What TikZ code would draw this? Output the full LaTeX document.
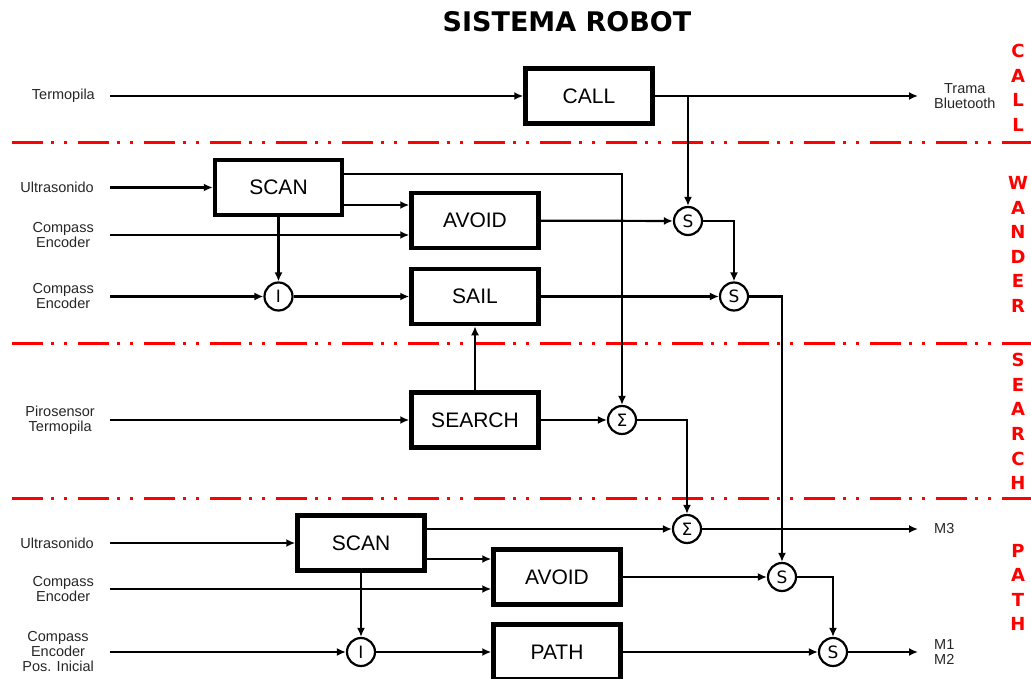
\documentclass[tikz,border=0pt]{standalone}
\usepackage{fontspec}
\setmainfont{Liberation Sans}
\newfontfamily\dejavu{DejaVu Sans}
\usetikzlibrary{arrows.meta}

\tikzset{
  blk/.style={draw, line width=4.5pt, minimum width=127pt, minimum height=55pt, inner sep=0pt, font=\fontsize{21}{24}\selectfont},
  junc/.style={draw, circle, line width=2.2pt, minimum size=28pt, inner sep=0pt, font=\dejavu\fontsize{17}{20}\selectfont},
  lbl/.style={inner sep=0pt, align=center, text=black!85, font=\fontsize{14.5}{15}\selectfont},
  sig/.style={->, line width=2.2pt},
  sep/.style={red, line width=3pt, dash pattern=on 31pt off 8pt on 3pt off 10pt on 3pt off 11pt},
  sect/.style={red, align=center, font=\dejavu\bfseries\fontsize{18}{24.6}\selectfont},
}

\begin{document}
\begin{tikzpicture}[x=1pt, y=-1pt, >={Latex[length=9pt,width=8pt]}]
\useasboundingbox (0,0) rectangle (1031,679);

% title and layers
\node[font=\dejavu\bfseries\fontsize{27}{30}\selectfont] (ttl) at (567,22) {SISTEMA ROBOT};
\draw[sep] (12,143) -- (1031,143);
\draw[sep] (12,343) -- (1031,343);
\draw[sep] (12,498) -- (1031,498);
\node[sect] (lcall) at (1018,88) {C\\A\\L\\L};
\node[sect] (lwander) at (1018,244.5) {W\\A\\N\\D\\E\\R};
\node[sect] (lsearch) at (1018,421.5) {S\\E\\A\\R\\C\\H};
\node[sect] (lpath) at (1018,587.5) {P\\A\\T\\H};

% blocks
\node[blk] (call) at (589,96) {CALL};
\node[blk] (scana) at (278.5,187.5) {SCAN};
\node[blk] (avoida) at (475,220.5) {AVOID};
\node[blk] (sail) at (475,296.5) {SAIL};
\node[blk] (search) at (475,420) {SEARCH};
\node[blk] (scanb) at (361,543) {SCAN};
\node[blk] (avoidb) at (557,577) {AVOID};
\node[blk] (path) at (557,652) {PATH};

% junctions
\node[junc] (s1) at (688,221) {S};
\node[junc] (s2) at (734,296.5) {S};
\node[junc] (i1) at (278.5,296.5) {I};
\node[junc] (sig1) at (622,420) {Σ};
\node[junc] (sig2) at (687,529) {Σ};
\node[junc] (i2) at (361,652) {I};
\node[junc] (s3) at (782,577) {S};
\node[junc] (s4) at (833,652) {S};

% inputs
\node[lbl, anchor=east] (tp) at (95,96) {Termopila};
\node[lbl, anchor=east] (us1) at (94,187.5) {Ultrasonido};
\node[lbl, anchor=east] (ce1) at (94,235) {Compass\\Encoder};
\node[lbl, anchor=east] (ce2) at (94,296.5) {Compass\\Encoder};
\node[lbl, anchor=east] (ps) at (95,420) {Pirosensor\\Termopila};
\node[lbl, anchor=east] (us2) at (94,543) {Ultrasonido};
\node[lbl, anchor=east] (ce3) at (94,589) {Compass\\Encoder};
\node[lbl, anchor=east] (ce4) at (94,652) {Compass\\Encoder\\Pos. Inicial};

% outputs
\node[lbl, anchor=west] (tb) at (934,96) {Trama\\Bluetooth};
\node[lbl, anchor=west] (m3) at (934,529) {M3};
\node[lbl, anchor=west] (m12) at (934,652) {M1\\M2};

% CALL
\draw[sig, shorten <=15pt] (tp.east) -- (tp.east -| call.west);
\draw[sig, shorten >=16pt] (call.east) -- (tb.west);
\draw[sig] (s1 |- call.east) -- (s1);

% WANDER
\draw[sig, shorten <=16pt] (us1.east) -- (us1.east -| scana.west);
\draw[sig] ([yshift=13.5pt]scana.east) -| (sig1);
\draw[sig] ([yshift=-17.5pt]scana.east) -- ([yshift=-17.5pt]scana.east -| avoida.west);
\draw[sig, shorten <=16pt] (ce1.east) -- (ce1.east -| avoida.west);
\draw[sig] (scana.south) -- (i1);
\draw[sig, shorten <=16pt] (ce2.east) -- (i1);
\draw[sig] (i1) -- (sail);
\draw[sig] (avoida) -- (s1);
\draw[sig] (s1) -| (s2);
\draw[sig] (sail) -- (s2);
\draw[sig] (s2) -| (s3);

% SEARCH
\draw[sig, shorten <=15pt] (ps.east) -- (search);
\draw[sig] (search) -- (sail);
\draw[sig] (search) -- (sig1);
\draw[sig] (sig1) -| (sig2);

% PATH
\draw[sig, shorten <=16pt] (us2.east) -- (us2.east -| scanb.west);
\draw[sig] ([yshift=14pt]scanb.east) -- (sig2);
\draw[sig] ([yshift=-16pt]scanb.east) -- ([yshift=-16pt]scanb.east -| avoidb.west);
\draw[sig, shorten <=16pt] (ce3.east) -- (ce3.east -| avoidb.west);
\draw[sig] (scanb.south) -- (i2);
\draw[sig, shorten <=16pt] (ce4.east) -- (i2);
\draw[sig] (i2) -- (path);
\draw[sig] (avoidb) -- (s3);
\draw[sig] (s3) -| (s4);
\draw[sig] (path) -- (s4);
\draw[sig, shorten >=16pt] (s4) -- (m12.west);
\draw[sig, shorten >=16pt] (sig2) -- (m3.west);
\end{tikzpicture}
\end{document}
